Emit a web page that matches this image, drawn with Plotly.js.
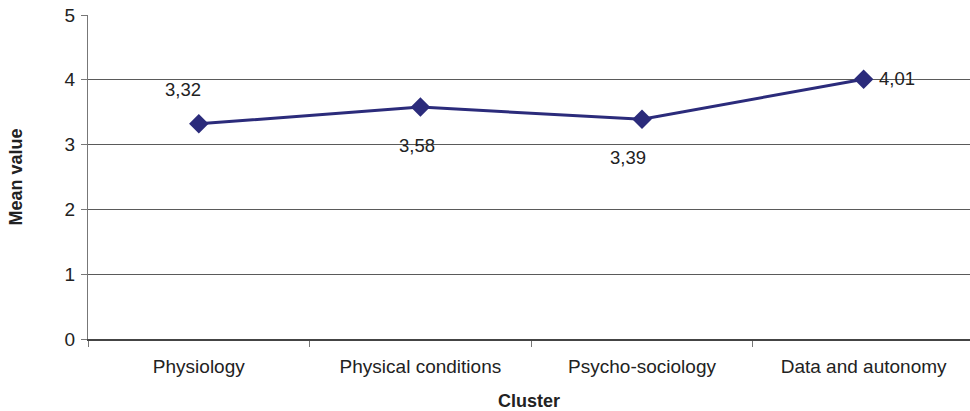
<!DOCTYPE html>
<html>
<head>
<meta charset="utf-8">
<script src="https://cdn.plot.ly/plotly-3.0.1.min.js"></script>
<style>html,body{margin:0;padding:0;background:#fff;}#chart{width:970px;height:411px;}</style>
</head>
<body>
<div id="chart"></div>
<script>
var categories = ["Physiology", "Physical conditions", "Psycho-sociology", "Data and autonomy"];
var meanValues = [3.32, 3.58, 3.39, 4.01];
var yTicks = [0, 1, 2, 3, 4, 5];

// label offsets (pixels) relative to each point
var labelShifts = [[-16, 34], [-3, -38], [-14, -38], [33, 1]];

var fontFam = "Liberation Sans, Arial, sans-serif";
var annotations = meanValues.map(function (v, i) {
  return {
    x: categories[i], y: v, xref: "x", yref: "y",
    text: v.toFixed(2).replace(".", ","),
    showarrow: false,
    xshift: labelShifts[i][0], yshift: labelShifts[i][1],
    font: {family: fontFam, size: 18.5, color: "#222"}
  };
});

var trace = {
  x: categories, y: meanValues, type: "scatter", mode: "lines+markers",
  line: {color: "#2B2B7B", width: 3},
  marker: {symbol: "diamond", size: 15, color: "#2B2B7B"},
  hoverinfo: "skip"
};

var layout = {
  width: 970, height: 411,
  margin: {l: 88, r: 0, t: 15, b: 72},
  paper_bgcolor: "#fff", plot_bgcolor: "#fff",
  showlegend: false,
  font: {family: fontFam, color: "#222"},
  xaxis: {
    type: "category", range: [-0.5, 3.48],
    showgrid: false, zeroline: false,
    showline: true, linecolor: "#444", linewidth: 1.5,
    ticks: "outside", tickson: "boundaries", ticklen: 6, tickcolor: "#777", tickwidth: 1,
    ticklabelstandoff: 10,
    tickfont: {family: fontFam, size: 19, color: "#222"},
    title: {text: "<b>Cluster</b>", font: {family: fontFam, size: 18, color: "#222"}, standoff: 22}
  },
  yaxis: {
    range: [0, 5], tickvals: yTicks, ticktext: yTicks.map(String),
    showgrid: true, gridcolor: "#5a5a5a", gridwidth: 1,
    zeroline: false, showline: true, linecolor: "#777", linewidth: 1,
    ticks: "outside", ticklen: 6, tickcolor: "#777",
    ticklabelstandoff: 2,
    tickfont: {family: fontFam, size: 19, color: "#222"},
    title: {text: "<b>Mean value</b>", font: {family: fontFam, size: 18, color: "#222"}, standoff: 37}
  },
  annotations: annotations
};

Plotly.newPlot("chart", [trace], layout, {displayModeBar: false, staticPlot: true});
</script>
</body>
</html>
